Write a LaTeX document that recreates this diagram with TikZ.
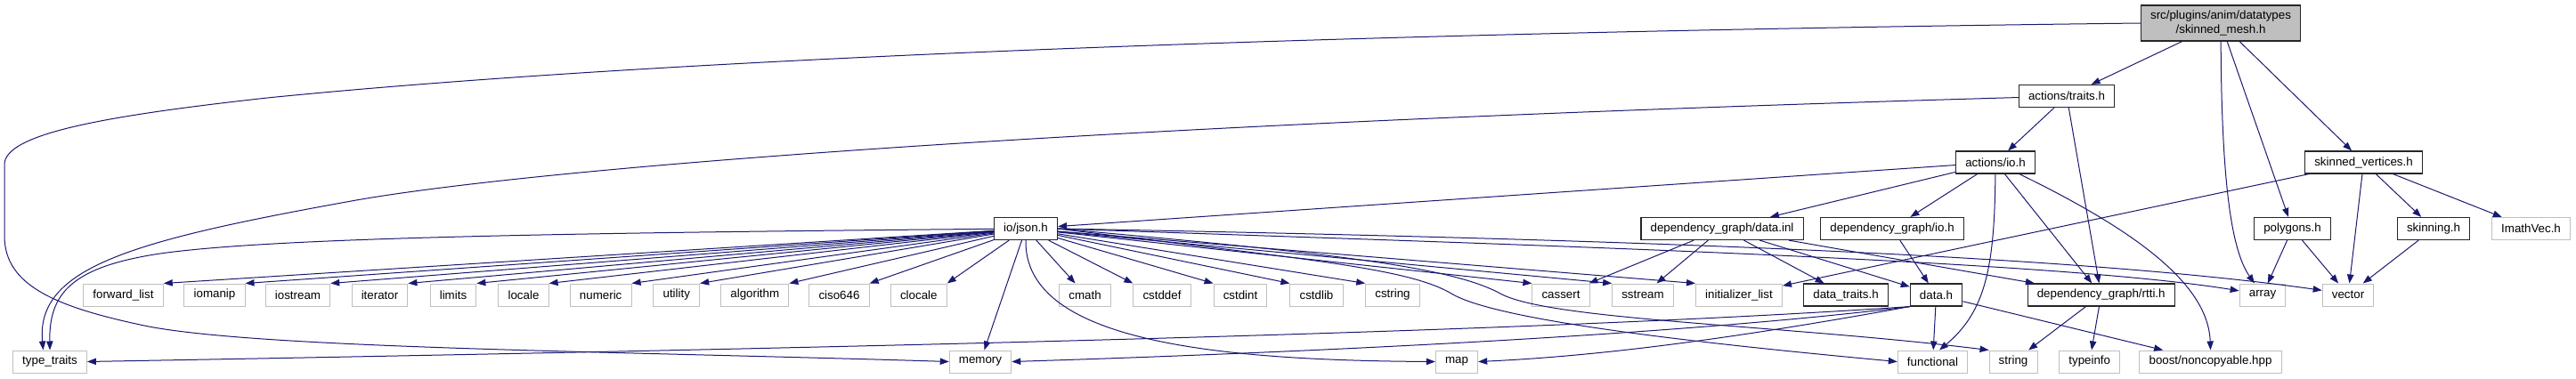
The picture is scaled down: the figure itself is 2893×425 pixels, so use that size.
\documentclass[tikz,border=0pt]{standalone}
\usepackage{fontspec}
\setmainfont{Liberation Sans}
\usetikzlibrary{arrows.meta}
\definecolor{edgeBlue}{HTML}{191970}
\definecolor{sysGray}{HTML}{BFBFBF}
\definecolor{rootGray}{HTML}{BFBFBF}

\begin{document}
\begin{tikzpicture}[x=0.75pt,y=-0.75pt,
		>={Triangle[length=7.5pt,width=5.5pt]},
		localfile/.style={draw=black!85,line width=0.9pt,fill=white,minimum height=18.75pt,inner xsep=8pt,inner ysep=0pt},
		sysfile/.style={localfile,draw=sysGray,line width=0.75pt},
		rootfile/.style={localfile,fill=rootGray,align=center,minimum height=30pt},
		dep/.style={->,draw=edgeBlue,line width=0.75pt}]
			\useasboundingbox (0,0) rectangle (2893,425);
			
			% Files, top to bottom
			\node[rootfile] (root) at (2494,26) {src/plugins/anim/datatypes\\/skinned\_mesh.h};
			\node[localfile] (traits) at (2321,108) {actions/traits.h};
			\node[localfile] (aio) at (2241,182.5) {actions/io.h};
			\node[localfile] (skinVerts) at (2654.5,182.5) {skinned\_vertices.h};
			\node[localfile] (json) at (1152,257) {io/json.h};
			\node[localfile] (dataInl) at (1934,257) {dependency\_graph/data.inl};
			\node[localfile] (depIo) at (2125,257) {dependency\_graph/io.h};
			\node[localfile] (polygons) at (2574.5,257) {polygons.h};
			\node[localfile] (skinning) at (2733,257) {skinning.h};
			\node[sysfile] (imathVec) at (2842.5,257) {ImathVec.h};
			
			% Row of headers under io/json.h
			\node[sysfile] (fwdList) at (138.5,331.5) {forward\_list};
			\node[sysfile] (iomanip) at (241,331.5) {iomanip};
			\node[sysfile] (iostream) at (334.5,331.5) {iostream};
			\node[sysfile] (iterator) at (426.5,331.5) {iterator};
			\node[sysfile] (limits) at (509,331.5) {limits};
			\node[sysfile] (locale) at (588,331.5) {locale};
			\node[sysfile] (numeric) at (674.7,331.5) {numeric};
			\node[sysfile] (utility) at (759.8,331.5) {utility};
			\node[sysfile] (algorithm) at (847.8,331.5) {algorithm};
			\node[sysfile] (ciso) at (942.5,331.5) {ciso646};
			\node[sysfile] (clocale) at (1031.8,331.5) {clocale};
			\node[sysfile] (cmath) at (1218.5,331.5) {cmath};
			\node[sysfile] (cstddef) at (1305,331.5) {cstddef};
			\node[sysfile] (cstdint) at (1393,331.5) {cstdint};
			\node[sysfile] (cstdlib) at (1478.5,331.5) {cstdlib};
			\node[sysfile] (cstring) at (1564,331.5) {cstring};
			\node[sysfile] (cassert) at (1753,331.5) {cassert};
			\node[sysfile] (sstream) at (1845,331.5) {sstream};
			\node[sysfile] (initList) at (1953,331.5) {initializer\_list};
			\node[localfile] (dataTraits) at (2073,331.5) {data\_traits.h};
			\node[localfile] (dataH) at (2174.5,331.5) {data.h};
			\node[localfile] (rtti) at (2359.7,331.5) {dependency\_graph/rtti.h};
			\node[sysfile] (array) at (2541,331.5) {array};
			\node[sysfile] (vector) at (2637,331.5) {vector};
			
			% Bottom row
			\node[sysfile] (typeTraits) at (56,406.5) {type\_traits};
			\node[sysfile] (memory) at (1101,406.5) {memory};
			\node[sysfile] (map) at (1636,406.5) {map};
			\node[sysfile] (functional) at (2170.5,406.5) {functional};
			\node[sysfile] (string) at (2261,406.5) {string};
			\node[sysfile] (typeinfo) at (2346.7,406.5) {typeinfo};
			\node[sysfile] (boost) at (2482.5,406.5) {boost/noncopyable.hpp};
			
			% skinned_mesh.h
			\draw[dep] (root) -- (traits);
			\draw[dep] (root) -- (polygons);
			\draw[dep] (root) -- (skinVerts);
			\draw[dep] (root) .. controls (2495,200) and (2505,280) .. (array.125);
			\draw[dep] (root.west) .. controls (1400,38) and (700,70) .. (300,110) .. controls (120,130) and (5,150) .. (5,185) -- (5,265) .. controls (5,320) and (60,345) .. (167,367) .. controls (300,392) and (700,395) .. (memory.west);
			
			% actions/traits.h
			\draw[dep] (traits) -- (aio);
			\draw[dep] (traits) -- (rtti);
			\draw[dep] (traits) .. controls (1200,140) and (600,190) .. (400,225) .. controls (150,270) and (40,300) .. (typeTraits.120);
			
			% actions/io.h
			\draw[dep] (aio) -- (json);
			\draw[dep] (aio) -- (dataInl);
			\draw[dep] (aio) -- (depIo);
			\draw[dep] (aio) -- (rtti);
			\draw[dep] (aio) .. controls (2240,300) and (2230,350) .. (functional.60);
			\draw[dep] (aio) .. controls (2400,260) and (2480,320) .. (boost.north);
			
			% skinned_vertices.h, polygons.h, skinning.h
			\draw[dep] (skinVerts) -- (initList);
			\draw[dep] (skinVerts) -- (vector);
			\draw[dep] (skinVerts) -- (skinning);
			\draw[dep] (skinVerts) -- (imathVec);
			\draw[dep] (polygons) -- (array);
			\draw[dep] (polygons) -- (vector);
			\draw[dep] (skinning) -- (vector);
			
			% io/json.h
			\draw[dep] (json) .. controls (600,262) and (300,268) .. (180,285) .. controls (80,300) and (55,330) .. (typeTraits.north);
			\draw[dep] (json) -- (fwdList.north east);
			\draw[dep] (json) -- (iomanip.north east);
			\draw[dep] (json) -- (iostream.north east);
			\draw[dep] (json) -- (iterator.north east);
			\draw[dep] (json) -- (limits.north east);
			\draw[dep] (json) -- (locale.north east);
			\draw[dep] (json) -- (numeric.north east);
			\draw[dep] (json) -- (utility.north east);
			\draw[dep] (json) -- (algorithm.north east);
			\draw[dep] (json) -- (ciso.north east);
			\draw[dep] (json) -- (clocale.north east);
			\draw[dep] (json) -- (memory);
			\draw[dep] (json) -- (cmath.130);
			\draw[dep] (json) -- (cstddef.north west);
			\draw[dep] (json) -- (cstdint.north west);
			\draw[dep] (json) -- (cstdlib.north west);
			\draw[dep] (json) -- (cstring.north west);
			\draw[dep] (json) -- (cassert.north west);
			\draw[dep] (json) -- (sstream.north west);
			\draw[dep] (json) -- (initList.north west);
			\draw[dep] (json.south) .. controls (1150,380) and (1350,405) .. (map.west);
			\draw[dep] (json.east) .. controls (1450,290) and (1580,300) .. (1630,330) .. controls (1680,360) and (1900,385) .. (functional.west);
			\draw[dep] (json.east) .. controls (1500,285) and (1630,300) .. (1685,330) .. controls (1740,360) and (2000,365) .. (string.north west);
			\draw[dep] (json.east) .. controls (1700,275) and (2300,292) .. (array.170);
			\draw[dep] (json.east) .. controls (1900,270) and (2350,290) .. (vector.170);
			
			% dependency_graph/data.inl and io.h
			\draw[dep] (dataInl) -- (cassert);
			\draw[dep] (dataInl) -- (sstream);
			\draw[dep] (dataInl) -- (dataTraits);
			\draw[dep] (dataInl) -- (dataH);
			\draw[dep] (dataInl) -- (rtti);
			\draw[dep] (depIo) -- (dataH);
			
			% data.h and rtti.h
			\draw[dep] (dataH) -- (functional);
			\draw[dep] (dataH) -- (boost);
			\draw[dep] (dataH.south west) .. controls (1700,375) and (900,392) .. (typeTraits.east);
			\draw[dep] (dataH.south west) .. controls (1900,375) and (1500,395) .. (memory.east);
			\draw[dep] (dataH.south west) .. controls (1950,380) and (1800,400) .. (map.east);
			\draw[dep] (rtti) -- (string);
			\draw[dep] (rtti) -- (typeinfo);
		\end{tikzpicture}
\end{document}
